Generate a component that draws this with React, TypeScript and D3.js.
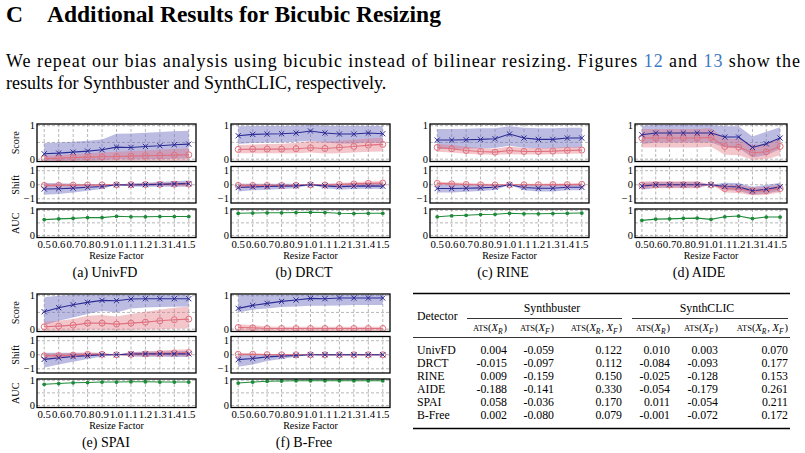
import * as d3 from 'd3'

// resize factors on the x axis
const resizeFactors = [0.5, 0.6, 0.7, 0.8, 0.9, 1.0, 1.1, 1.2, 1.3, 1.4, 1.5]
const resizeLabels = ['0.5', '0.6', '0.7', '0.8', '0.9', '1.0', '1.1', '1.2', '1.3', '1.4', '1.5']

// UnivFD
const univfdFake = [0.16, 0.18, 0.21, 0.24, 0.28, 0.36, 0.35, 0.38, 0.4, 0.43, 0.45]
const univfdFakeLo = [-0.05, -0.05, -0.04, -0.04, -0.03, 0.0, -0.01, 0.0, 0.0, 0.01, 0.02]
const univfdFakeHi = [0.48, 0.5, 0.52, 0.55, 0.59, 0.76, 0.77, 0.79, 0.81, 0.83, 0.85]
const univfdReal = [0.02, 0.03, 0.05, 0.06, 0.07, 0.08, 0.09, 0.1, 0.11, 0.12, 0.13]
const univfdRealLo = [-0.05, -0.05, -0.05, -0.05, -0.05, -0.05, -0.05, -0.05, -0.05, -0.05, -0.05]
const univfdRealHi = [0.1, 0.12, 0.15, 0.18, 0.2, 0.22, 0.24, 0.26, 0.28, 0.3, 0.32]
const univfdFakeShift = [-0.3, -0.28, -0.24, -0.18, -0.12, 0, -0.02, 0.01, 0.03, 0.06, 0.08]
const univfdFakeShiftLo = [-0.72, -0.65, -0.55, -0.42, -0.3, 0, -0.12, -0.15, -0.15, -0.15, -0.15]
const univfdFakeShiftHi = [0.12, 0.1, 0.08, 0.06, 0.05, 0, 0.1, 0.15, 0.2, 0.25, 0.3]
const univfdRealShift = [-0.05, -0.04, -0.03, -0.02, -0.01, 0, 0.01, 0.02, 0.03, 0.04, 0.05]
const univfdRealShiftLo = [-0.17, -0.15, -0.12, -0.09, -0.05, 0, -0.04, -0.06, -0.07, -0.08, -0.09]
const univfdRealShiftHi = [0.07, 0.07, 0.06, 0.05, 0.03, 0, 0.06, 0.1, 0.13, 0.16, 0.19]
const univfdAuc = [0.63, 0.66, 0.68, 0.71, 0.71, 0.76, 0.74, 0.74, 0.75, 0.75, 0.75]

// DRCT
const drctFake = [0.7, 0.74, 0.75, 0.76, 0.78, 0.84, 0.78, 0.75, 0.75, 0.78, 0.76]
const drctFakeLo = [0.45, 0.48, 0.5, 0.5, 0.52, 0.55, 0.5, 0.47, 0.47, 0.5, 0.48]
const drctFakeHi = [0.98, 0.99, 0.99, 0.99, 1.0, 1.02, 1.0, 0.99, 0.99, 0.99, 0.99]
const drctReal = [0.29, 0.3, 0.3, 0.3, 0.31, 0.34, 0.32, 0.35, 0.38, 0.42, 0.44]
const drctRealLo = [0.18, 0.18, 0.18, 0.18, 0.18, 0.2, 0.17, 0.18, 0.2, 0.22, 0.23]
const drctRealHi = [0.42, 0.44, 0.45, 0.46, 0.48, 0.55, 0.52, 0.55, 0.58, 0.62, 0.64]
const drctFakeShift = [-0.2, -0.15, -0.13, -0.1, -0.08, 0, -0.08, -0.13, -0.1, -0.08, -0.1]
const drctFakeShiftLo = [-0.48, -0.4, -0.35, -0.3, -0.25, 0, -0.25, -0.33, -0.3, -0.28, -0.3]
const drctFakeShiftHi = [0.08, 0.08, 0.08, 0.08, 0.08, 0, 0.08, 0.07, 0.1, 0.12, 0.1]
const drctRealShift = [-0.05, -0.05, -0.05, -0.05, -0.04, 0, -0.02, 0.02, 0.06, 0.1, 0.12]
const drctRealShiftLo = [-0.17, -0.16, -0.15, -0.14, -0.12, 0, -0.1, -0.08, -0.06, -0.04, -0.03]
const drctRealShiftHi = [0.07, 0.06, 0.05, 0.05, 0.04, 0, 0.06, 0.12, 0.18, 0.24, 0.27]
const drctAuc = [0.88, 0.89, 0.9, 0.9, 0.91, 0.92, 0.91, 0.88, 0.87, 0.88, 0.88]

// RINE
const rineFake = [0.57, 0.57, 0.58, 0.59, 0.61, 0.75, 0.63, 0.59, 0.59, 0.63, 0.63]
const rineFakeLo = [0.3, 0.3, 0.31, 0.32, 0.33, 0.4, 0.34, 0.32, 0.32, 0.34, 0.34]
const rineFakeHi = [0.9, 0.9, 0.91, 0.92, 0.92, 0.98, 0.94, 0.92, 0.92, 0.94, 0.94]
const rineReal = [0.35, 0.31, 0.26, 0.23, 0.21, 0.26, 0.23, 0.23, 0.24, 0.26, 0.27]
const rineRealLo = [0.22, 0.2, 0.16, 0.14, 0.13, 0.15, 0.14, 0.14, 0.15, 0.16, 0.17]
const rineRealHi = [0.45, 0.42, 0.37, 0.33, 0.31, 0.38, 0.33, 0.33, 0.34, 0.36, 0.37]
const rineFakeShift = [-0.27, -0.27, -0.25, -0.22, -0.18, 0, -0.2, -0.25, -0.25, -0.18, -0.18]
const rineFakeShiftLo = [-0.55, -0.55, -0.5, -0.45, -0.38, 0, -0.4, -0.48, -0.48, -0.4, -0.4]
const rineFakeShiftHi = [0.02, 0.02, 0.02, 0.02, 0.02, 0, 0.02, 0.0, 0.0, 0.04, 0.04]
const rineRealShift = [0.1, 0.06, 0.02, 0, -0.02, 0, 0, 0, 0.01, 0.01, 0.03]
const rineRealShiftLo = [-0.02, -0.04, -0.06, -0.08, -0.1, 0, -0.08, -0.08, -0.07, -0.07, -0.06]
const rineRealShiftHi = [0.22, 0.17, 0.12, 0.09, 0.06, 0, 0.08, 0.08, 0.09, 0.09, 0.11]
const rineAuc = [0.74, 0.78, 0.8, 0.83, 0.84, 0.88, 0.86, 0.86, 0.87, 0.88, 0.89]

// AIDE
const aideFake = [0.73, 0.78, 0.78, 0.78, 0.78, 0.78, 0.66, 0.66, 0.35, 0.46, 0.63]
const aideFakeLo = [0.45, 0.5, 0.5, 0.5, 0.5, 0.5, 0.35, 0.33, 0.05, 0.12, 0.3]
const aideFakeHi = [1.0, 1.02, 1.02, 1.02, 1.02, 1.02, 0.98, 0.98, 0.68, 0.82, 0.95]
const aideReal = [0.63, 0.63, 0.63, 0.63, 0.63, 0.65, 0.38, 0.36, 0.19, 0.22, 0.38]
const aideRealLo = [0.35, 0.35, 0.35, 0.35, 0.35, 0.37, 0.13, 0.12, -0.02, 0.0, 0.12]
const aideRealHi = [0.9, 0.9, 0.9, 0.9, 0.9, 0.92, 0.62, 0.6, 0.42, 0.45, 0.62]
const aideFakeShift = [-0.1, 0, 0, 0, 0, 0, -0.12, -0.15, -0.43, -0.32, -0.15]
const aideFakeShiftLo = [-0.35, -0.22, -0.22, -0.22, -0.22, 0, -0.38, -0.42, -0.72, -0.62, -0.45]
const aideFakeShiftHi = [0.15, 0.2, 0.2, 0.2, 0.2, 0, 0.14, 0.12, -0.15, -0.02, 0.15]
const aideRealShift = [-0.03, 0, 0, 0, 0, 0, -0.27, -0.3, -0.46, -0.43, -0.27]
const aideRealShiftLo = [-0.3, -0.25, -0.25, -0.25, -0.25, 0, -0.55, -0.58, -0.75, -0.72, -0.55]
const aideRealShiftHi = [0.24, 0.25, 0.25, 0.25, 0.25, 0, 0.0, -0.02, -0.18, -0.15, 0.0]
const aideAuc = [0.6, 0.65, 0.66, 0.68, 0.69, 0.64, 0.74, 0.77, 0.67, 0.73, 0.73]

// SPAI
const spaiFake = [0.52, 0.64, 0.73, 0.8, 0.86, 0.85, 0.9, 0.91, 0.91, 0.91, 0.91]
const spaiFakeLo = [0.12, 0.25, 0.35, 0.45, 0.55, 0.5, 0.62, 0.65, 0.66, 0.67, 0.68]
const spaiFakeHi = [0.95, 1.0, 1.02, 1.02, 1.02, 1.02, 1.02, 1.02, 1.02, 1.02, 1.02]
const spaiReal = [0.07, 0.09, 0.12, 0.18, 0.18, 0.15, 0.18, 0.21, 0.25, 0.28, 0.3]
const spaiRealLo = [-0.05, -0.05, -0.04, -0.02, -0.02, -0.03, -0.02, -0.01, 0, 0.01, 0.02]
const spaiRealHi = [0.22, 0.25, 0.3, 0.4, 0.42, 0.38, 0.45, 0.52, 0.58, 0.64, 0.68]
const spaiFakeShift = [-0.33, -0.22, -0.13, -0.06, 0.0, 0, 0.05, 0.06, 0.06, 0.06, 0.06]
const spaiFakeShiftLo = [-0.9, -0.7, -0.5, -0.3, -0.12, 0, -0.12, -0.14, -0.15, -0.16, -0.16]
const spaiFakeShiftHi = [0.15, 0.15, 0.14, 0.12, 0.1, 0, 0.2, 0.22, 0.24, 0.25, 0.26]
const spaiRealShift = [-0.08, -0.06, -0.03, 0.03, 0.03, 0, 0.03, 0.06, 0.1, 0.13, 0.15]
const spaiRealShiftLo = [-0.22, -0.2, -0.16, -0.1, -0.06, 0, -0.1, -0.1, -0.1, -0.1, -0.1]
const spaiRealShiftHi = [0.08, 0.1, 0.12, 0.18, 0.15, 0, 0.18, 0.24, 0.3, 0.36, 0.4]
const spaiAuc = [0.84, 0.87, 0.9, 0.91, 0.93, 0.93, 0.94, 0.94, 0.93, 0.93, 0.93]

// B-Free
const bfreeFake = [0.62, 0.71, 0.77, 0.83, 0.87, 0.92, 0.91, 0.93, 0.93, 0.93, 0.93]
const bfreeFakeLo = [0.5, 0.58, 0.62, 0.66, 0.68, 0.7, 0.7, 0.71, 0.72, 0.72, 0.72]
const bfreeFakeHi = [1.02, 1.02, 1.02, 1.02, 1.02, 1.02, 1.02, 1.02, 1.02, 1.02, 1.02]
const bfreeReal = [0.05, 0.04, 0.02, 0.02, 0.02, 0.02, 0.02, 0.02, 0.02, 0.02, 0.02]
const bfreeRealLo = [-0.05, -0.05, -0.05, -0.05, -0.05, -0.05, -0.05, -0.05, -0.05, -0.05, -0.05]
const bfreeRealHi = [0.15, 0.12, 0.08, 0.07, 0.07, 0.07, 0.07, 0.07, 0.07, 0.07, 0.07]
const bfreeFakeShift = [-0.35, -0.27, -0.15, -0.1, -0.05, 0, 0, 0, 0, 0, 0]
const bfreeFakeShiftLo = [-0.85, -0.7, -0.45, -0.3, -0.15, 0, -0.08, -0.06, -0.06, -0.06, -0.06]
const bfreeFakeShiftHi = [0.05, 0.05, 0.05, 0.04, 0.03, 0, 0.06, 0.06, 0.06, 0.06, 0.06]
const bfreeRealShift = [0.03, 0.03, 0.01, 0, 0, 0, 0, 0, 0, 0, 0]
const bfreeRealShiftLo = [-0.05, -0.04, -0.04, -0.04, -0.04, 0, -0.04, -0.04, -0.04, -0.04, -0.04]
const bfreeRealShiftHi = [0.12, 0.1, 0.06, 0.05, 0.05, 0, 0.05, 0.05, 0.05, 0.05, 0.05]
const bfreeAuc = [0.89, 0.93, 0.96, 0.97, 0.98, 0.98, 0.98, 0.98, 0.98, 0.98, 0.98]

// table
const detectors = ['UnivFD', 'DRCT', 'RINE', 'AIDE', 'SPAI', 'B-Free']
const sbAtsR = ['0.004', '-0.015', '0.009', '-0.188', '0.058', '0.002']
const sbAtsF = ['-0.059', '-0.097', '-0.159', '-0.141', '-0.036', '-0.080']
const sbAtsRF = ['0.122', '0.112', '0.150', '0.330', '0.170', '0.079']
const scAtsR = ['0.010', '-0.084', '-0.025', '-0.054', '0.011', '-0.001']
const scAtsF = ['0.003', '-0.093', '-0.128', '-0.179', '-0.054', '-0.072']
const scAtsRF = ['0.070', '0.177', '0.153', '0.261', '0.211', '0.172']

const FONT = '"Liberation Serif", "Times New Roman", serif'
const BLUE = '#2b2b94'
const BLUE_BAND = '#6a6ac0'
const RED = '#e0707e'
const RED_BAND = '#e07080'
const GREEN = '#1f8a3a'
const GRID = '#9a9a9a'

interface PanelProps {
    id: string
    caption: string
    left: number
    right: number
    top: number
    captionX: number
    yTitles?: boolean
    fake: number[]
    fakeLo: number[]
    fakeHi: number[]
    real: number[]
    realLo: number[]
    realHi: number[]
    fakeShift: number[]
    fakeShiftLo: number[]
    fakeShiftHi: number[]
    realShift: number[]
    realShiftLo: number[]
    realShiftHi: number[]
    auc: number[]
}

function Panel(p: PanelProps) {
    const x = d3.scaleLinear().domain([0.45, 1.55]).range([p.left, p.right])
    const yScore = d3.scaleLinear().domain([-0.07, 1.05]).range([p.top + 37.5, p.top])
    const yShift = d3.scaleLinear().domain([-1.3, 1.3]).range([p.top + 79, p.top + 42.5])
    const yAuc = d3.scaleLinear().domain([-0.08, 1.05]).range([p.top + 113.5, p.top + 85])

    const subs = [
        { key: 'score', y: yScore, grid: [0, 0.5, 1], labels: [[0, '0'], [1, '1']], title: 'Score' },
        { key: 'shift', y: yShift, grid: [-1, 0, 1], labels: [[-1, '\u22121'], [0, '0'], [1, '1']], title: 'Shift' },
        { key: 'auc', y: yAuc, grid: [0, 0.5, 1], labels: [[0, '0'], [1, '1']], title: 'AUC' },
    ]

    const band = (y: d3.ScaleLinear<number, number>, lo: number[], hi: number[]) =>
        d3
            .area<number>()
            .x((_, i) => x(resizeFactors[i]))
            .y0((_, i) => y(lo[i]))
            .y1((_, i) => y(hi[i]))(lo) || ''
    const line = (y: d3.ScaleLinear<number, number>, v: number[]) =>
        d3
            .line<number>()
            .x((_, i) => x(resizeFactors[i]))
            .y((d) => y(d))(v) || ''

    const crosses = (y: d3.ScaleLinear<number, number>, v: number[]) =>
        v.map((d, i) => (
            <path
                key={i}
                transform={`translate(${x(resizeFactors[i])},${y(d)})`}
                d="M-2.6,-2.6L2.6,2.6M-2.6,2.6L2.6,-2.6"
                stroke={BLUE}
                strokeWidth={1}
            />
        ))
    const circles = (y: d3.ScaleLinear<number, number>, v: number[]) =>
        v.map((d, i) => (
            <circle key={i} cx={x(resizeFactors[i])} cy={y(d)} r={3} fill="none" stroke={RED} strokeWidth={1} />
        ))

    const bottom = yAuc.range()[0]

    return (
        <g>
            {subs.map((s) => {
                const [y1, y0] = s.y.range()
                const clipId = `${p.id}-${s.key}`
                return (
                    <g key={s.key}>
                        <defs>
                            <clipPath id={clipId}>
                                <rect x={p.left} y={y0} width={p.right - p.left} height={y1 - y0} />
                            </clipPath>
                        </defs>
                        {/* grid */}
                        {resizeFactors.map((f) => (
                            <line
                                key={'v' + f}
                                x1={x(f)}
                                x2={x(f)}
                                y1={y0}
                                y2={y1}
                                stroke={GRID}
                                strokeWidth={0.7}
                                strokeDasharray="3,2"
                            />
                        ))}
                        {s.grid.map((g) => (
                            <line
                                key={'h' + g}
                                x1={p.left}
                                x2={p.right}
                                y1={s.y(g)}
                                y2={s.y(g)}
                                stroke={GRID}
                                strokeWidth={0.7}
                                strokeDasharray="3,2"
                            />
                        ))}
                        <g clipPath={`url(#${clipId})`}>
                            {s.key === 'score' && (
                                <>
                                    <path d={band(yScore, p.fakeLo, p.fakeHi)} fill={BLUE_BAND} opacity={0.45} />
                                    <path d={band(yScore, p.realLo, p.realHi)} fill={RED_BAND} opacity={0.4} />
                                    <path d={line(yScore, p.real)} fill="none" stroke={RED} strokeWidth={1.1} />
                                    <path d={line(yScore, p.fake)} fill="none" stroke={BLUE} strokeWidth={1.1} />
                                    {circles(yScore, p.real)}
                                    {crosses(yScore, p.fake)}
                                </>
                            )}
                            {s.key === 'shift' && (
                                <>
                                    <path d={band(yShift, p.fakeShiftLo, p.fakeShiftHi)} fill={BLUE_BAND} opacity={0.45} />
                                    <path d={band(yShift, p.realShiftLo, p.realShiftHi)} fill={RED_BAND} opacity={0.4} />
                                    <path d={line(yShift, p.realShift)} fill="none" stroke={RED} strokeWidth={1.1} />
                                    <path d={line(yShift, p.fakeShift)} fill="none" stroke={BLUE} strokeWidth={1.1} />
                                    {circles(yShift, p.realShift)}
                                    {crosses(yShift, p.fakeShift)}
                                </>
                            )}
                            {s.key === 'auc' && (
                                <>
                                    <path d={line(yAuc, p.auc)} fill="none" stroke={GREEN} strokeWidth={1.1} />
                                    {p.auc.map((d, i) => (
                                        <circle key={i} cx={x(resizeFactors[i])} cy={yAuc(d)} r={1.9} fill={GREEN} />
                                    ))}
                                </>
                            )}
                        </g>
                        <rect
                            x={p.left}
                            y={y0}
                            width={p.right - p.left}
                            height={y1 - y0}
                            fill="none"
                            stroke="#000"
                            strokeWidth={1.3}
                        />
                        {s.labels.map(([v, t]) => (
                            <text
                                key={String(v)}
                                x={p.left - 2}
                                y={s.y(v as number)}
                                dy="0.35em"
                                textAnchor="end"
                                fontSize={10.5}
                            >
                                {t}
                            </text>
                        ))}
                        {p.yTitles && (
                            <text
                                transform={`translate(${p.left - 18},${(y0 + y1) / 2}) rotate(-90)`}
                                textAnchor="middle"
                                fontSize={10.2}
                            >
                                {s.title}
                            </text>
                        )}
                    </g>
                )
            })}
            {resizeLabels.map((t, i) => (
                <text key={t} x={x(resizeFactors[i])} y={bottom + 10.5} textAnchor="middle" fontSize={10.8}>
                    {t}
                </text>
            ))}
            <text x={(p.left + p.right) / 2} y={bottom + 21.5} textAnchor="middle" fontSize={10}>
                Resize Factor
            </text>
            <text x={p.captionX} y={p.top + 153} textAnchor="middle" fontSize={14}>
                {p.caption}
            </text>
        </g>
    )
}

function AtsLabel({ x, y, subs }: { x: number; y: number; subs: string[] }) {
    return (
        <text x={x} y={y} textAnchor="end" fontSize={10.5}>
            <tspan fontSize={8.5}>ATS</tspan>
            <tspan>(</tspan>
            {subs.map((s, i) => (
                <tspan key={s}>
                    {i > 0 && <tspan>, </tspan>}
                    <tspan fontStyle="italic">X</tspan>
                    <tspan fontStyle="italic" fontSize={7.5} dy={2.5}>
                        {s}
                    </tspan>
                    <tspan dy={-2.5}>{'\u200a'}</tspan>
                </tspan>
            ))}
            <tspan>)</tspan>
        </text>
    )
}

function Table() {
    const colX = [507, 554, 622, 670, 718, 788]
    const cols = [sbAtsR, sbAtsF, sbAtsRF, scAtsR, scAtsF, scAtsRF]
    const subs = [['R'], ['F'], ['R', 'F'], ['R'], ['F'], ['R', 'F']]
    const rowY = d3.range(detectors.length).map((i) => 354 + i * 13)
    return (
        <g fontSize={11.8}>
            <line x1={413} x2={790} y1={293.5} y2={293.5} stroke="#000" strokeWidth={1.4} />
            <text x={417} y={320}>Detector</text>
            <text x={552} y={312} textAnchor="middle">Synthbuster</text>
            <text x={707} y={312} textAnchor="middle">SynthCLIC</text>
            <line x1={467} x2={622} y1={318.5} y2={318.5} stroke="#000" strokeWidth={0.8} />
            <line x1={632} x2={788} y1={318.5} y2={318.5} stroke="#000" strokeWidth={0.8} />
            {colX.map((cx, i) => (
                <AtsLabel key={i} x={cx} y={331} subs={subs[i]} />
            ))}
            <line x1={413} x2={790} y1={337.5} y2={337.5} stroke="#000" strokeWidth={0.8} />
            {detectors.map((d, r) => (
                <g key={d}>
                    <text x={417} y={rowY[r]}>{d}</text>
                    {cols.map((c, i) => (
                        <text key={i} x={colX[i]} y={rowY[r]} textAnchor="end">
                            {c[r]}
                        </text>
                    ))}
                </g>
            ))}
            <line x1={413} x2={790} y1={428.5} y2={428.5} stroke="#000" strokeWidth={1.4} />
        </g>
    )
}

export default function App() {
    const panels: PanelProps[] = [
        {
            id: 'a', caption: '(a) UnivFD', left: 37, right: 196, top: 124, captionX: 105, yTitles: true,
            fake: univfdFake, fakeLo: univfdFakeLo, fakeHi: univfdFakeHi,
            real: univfdReal, realLo: univfdRealLo, realHi: univfdRealHi,
            fakeShift: univfdFakeShift, fakeShiftLo: univfdFakeShiftLo, fakeShiftHi: univfdFakeShiftHi,
            realShift: univfdRealShift, realShiftLo: univfdRealShiftLo, realShiftHi: univfdRealShiftHi,
            auc: univfdAuc,
        },
        {
            id: 'b', caption: '(b) DRCT', left: 231, right: 390, top: 124, captionX: 304,
            fake: drctFake, fakeLo: drctFakeLo, fakeHi: drctFakeHi,
            real: drctReal, realLo: drctRealLo, realHi: drctRealHi,
            fakeShift: drctFakeShift, fakeShiftLo: drctFakeShiftLo, fakeShiftHi: drctFakeShiftHi,
            realShift: drctRealShift, realShiftLo: drctRealShiftLo, realShiftHi: drctRealShiftHi,
            auc: drctAuc,
        },
        {
            id: 'c', caption: '(c) RINE', left: 430, right: 589, top: 124, captionX: 503,
            fake: rineFake, fakeLo: rineFakeLo, fakeHi: rineFakeHi,
            real: rineReal, realLo: rineRealLo, realHi: rineRealHi,
            fakeShift: rineFakeShift, fakeShiftLo: rineFakeShiftLo, fakeShiftHi: rineFakeShiftHi,
            realShift: rineRealShift, realShiftLo: rineRealShiftLo, realShiftHi: rineRealShiftHi,
            auc: rineAuc,
        },
        {
            id: 'd', caption: '(d) AIDE', left: 635, right: 787, top: 124, captionX: 699,
            fake: aideFake, fakeLo: aideFakeLo, fakeHi: aideFakeHi,
            real: aideReal, realLo: aideRealLo, realHi: aideRealHi,
            fakeShift: aideFakeShift, fakeShiftLo: aideFakeShiftLo, fakeShiftHi: aideFakeShiftHi,
            realShift: aideRealShift, realShiftLo: aideRealShiftLo, realShiftHi: aideRealShiftHi,
            auc: aideAuc,
        },
        {
            id: 'e', caption: '(e) SPAI', left: 37, right: 196, top: 294, captionX: 106, yTitles: true,
            fake: spaiFake, fakeLo: spaiFakeLo, fakeHi: spaiFakeHi,
            real: spaiReal, realLo: spaiRealLo, realHi: spaiRealHi,
            fakeShift: spaiFakeShift, fakeShiftLo: spaiFakeShiftLo, fakeShiftHi: spaiFakeShiftHi,
            realShift: spaiRealShift, realShiftLo: spaiRealShiftLo, realShiftHi: spaiRealShiftHi,
            auc: spaiAuc,
        },
        {
            id: 'f', caption: '(f) B-Free', left: 231, right: 390, top: 294, captionX: 304,
            fake: bfreeFake, fakeLo: bfreeFakeLo, fakeHi: bfreeFakeHi,
            real: bfreeReal, realLo: bfreeRealLo, realHi: bfreeRealHi,
            fakeShift: bfreeFakeShift, fakeShiftLo: bfreeFakeShiftLo, fakeShiftHi: bfreeFakeShiftHi,
            realShift: bfreeRealShift, realShiftLo: bfreeRealShiftLo, realShiftHi: bfreeRealShiftHi,
            auc: bfreeAuc,
        },
    ]

    return (
        <svg
            width={805}
            height={453}
            style={{ position: 'absolute', left: 0, top: 0, background: '#fff' }}
            fontFamily={FONT}
        >
            <text x={6} y={22} fontSize={23.5} fontWeight="bold">C</text>
            <text x={47} y={22} fontSize={23.5} fontWeight="bold">
                Additional Results for Bicubic Resizing
            </text>
            <text x={6} y={67} fontSize={18} textLength={794} lengthAdjust="spacing">
                We repeat our bias analysis using bicubic instead of bilinear resizing. Figures{' '}
                <tspan fill="#3d7ac0">12</tspan> and <tspan fill="#3d7ac0">13</tspan> show the
            </text>
            <text x={6} y={89} fontSize={18}>
                results for Synthbuster and SynthCLIC, respectively.
            </text>
            {panels.map((p) => (
                <Panel key={p.id} {...p} />
            ))}
            <Table />
        </svg>
    )
}
